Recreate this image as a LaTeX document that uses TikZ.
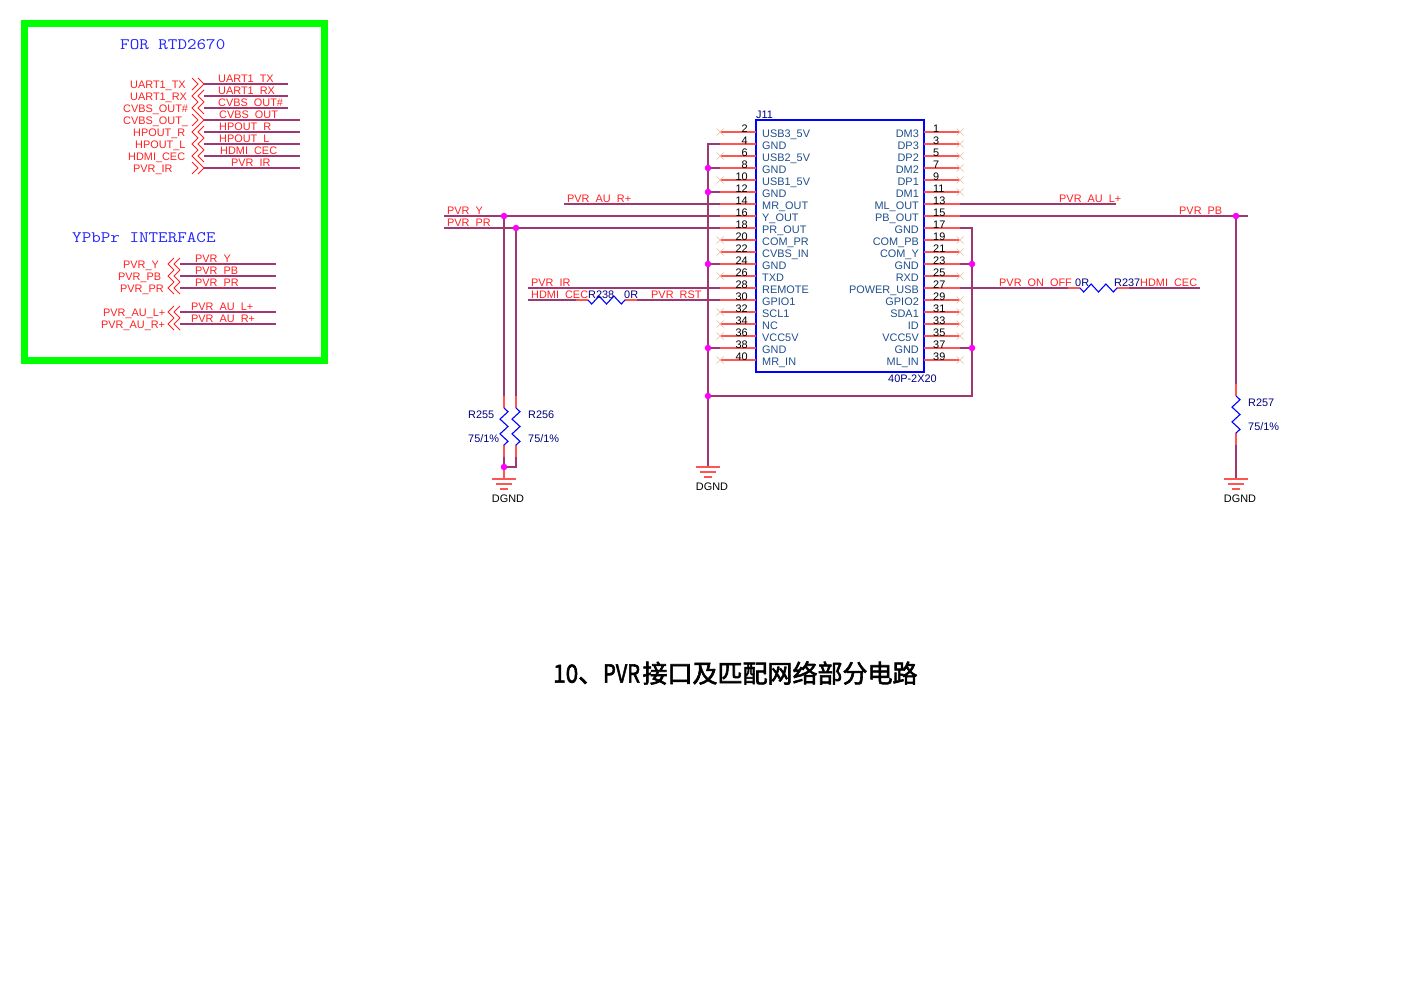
\documentclass[tikz,border=0pt]{standalone}
\usepackage{graphicx}
\usepackage{fontspec}
\setmainfont{Liberation Sans}
\newfontfamily\cjk{Noto Sans CJK SC}
\usetikzlibrary{decorations.pathmorphing}
\definecolor{wirecol}{rgb}{0.62,0.22,0.45}
\definecolor{pincol}{rgb}{1,0.33,0.33}
\definecolor{netcol}{rgb}{1,0.13,0.13}
\definecolor{namecol}{rgb}{0.12,0.31,0.55}
\definecolor{refcol}{rgb}{0,0,0.5}
\definecolor{nccol}{rgb}{0.91,0.78,0.69}
\definecolor{framecol}{rgb}{0,1,0}
\definecolor{notecol}{rgb}{0.15,0.15,1}
\definecolor{dotcol}{rgb}{1,0,1}
\tikzset{
  wire/.style={draw=wirecol,line width=1.4pt},
  pinline/.style={draw=pincol,line width=1.4pt},
  ncmark/.style={draw=nccol,line width=0.7pt},
  reszig/.style={draw=blue,line width=1.1pt,decorate,decoration={zigzag,segment length=14.8pt,amplitude=4pt}},
  portline/.style={draw=netcol,line width=1pt},
  junction/.style={circle,fill=dotcol,inner sep=0pt,minimum size=6.5pt},
  txt/.style={inner sep=0pt,text height=8pt,text depth=0pt,font=\fontsize{10.9}{11}\selectfont},
  netlabel/.style={txt,anchor=west,text=netcol},
  pinname/.style={txt,text=namecol},
  pinnum/.style={txt,text=black},
  refname/.style={txt,anchor=west,text=refcol},
  gndname/.style={txt,text=black},
  notetext/.style={inner sep=0pt,text=notecol,font=\fontsize{16}{16}\ttfamily},
}
% three bars under a ground point
\newcommand{\gndbars}[1]{
  \draw[pinline,shift={(#1)}] (-12,0) -- (12,0) (-8,5) -- (8,5) (-4,10) -- (4,10);
}
% double chevron of an off-page port, tips at x=#2
\newcommand{\chevleft}[2]{
  \draw[portline] (#2+6,#1-6) -- (#2,#1) -- (#2+6,#1+6);
  \draw[portline] (#2+12,#1-6) -- (#2+6,#1) -- (#2+12,#1+6);
}
\newcommand{\chevright}[2]{
  \draw[portline] (#2,#1-6) -- (#2+6,#1) -- (#2,#1+6);
  \draw[portline] (#2+6,#1-6) -- (#2+12,#1) -- (#2+6,#1+6);
}

\begin{document}
\begin{tikzpicture}[x=1pt,y=-1pt]
  \useasboundingbox (0,0) rectangle (1404,993);

  % panel with the port lists
  \draw[draw=framecol,line width=7pt] (24.5,23.5) rectangle (324.5,360);
  \node[notetext,anchor=west] (titlertd) at (120,45) {\scalebox{1.16}[1]{FOR RTD2670}};
  \node[notetext,anchor=west] (titleypbpr) at (72,237.5) {\scalebox{1.16}[1]{YPbPr INTERFACE}};

  \foreach \y/\xa/\ta/\xb/\tb/\xe in {84/130/UART1\_TX/218/UART1\_TX/288,
      96/130/UART1\_RX/218/UART1\_RX/288,
      108/123/CVBS\_OUT\#/218/CVBS\_OUT\#/288,
      120/123/CVBS\_OUT\_/219/CVBS\_OUT/300,
      132/133/HPOUT\_R/219/HPOUT\_R/300,
      144/135/HPOUT\_L/219/HPOUT\_L/300,
      156/128/HDMI\_CEC/220/HDMI\_CEC/300,
      168/133/PVR\_IR/231/PVR\_IR/300} {
    \coordinate (pa\y) at (204,\y);
    \coordinate (pb\y) at (\xe,\y);
    \draw[wire] (pa\y) -- (pb\y);
    \node[netlabel] (la\y) at (\xa,\y) {\ta};
    \node[netlabel] (lb\y) at (\xb,\y-6) {\tb};
  }
  \foreach \y in {84,120,168} { \chevright{\y}{192} }
  \foreach \y in {96,108,132,144,156} { \chevleft{\y}{192} }

  \foreach \y/\xa/\ta/\xb/\tb in {264/123/PVR\_Y/195/PVR\_Y,
      276/118/PVR\_PB/195/PVR\_PB,
      288/120/PVR\_PR/195/PVR\_PR,
      312/103/PVR\_AU\_L+/191/PVR\_AU\_L+,
      324/101/PVR\_AU\_R+/191/PVR\_AU\_R+} {
    \coordinate (pa\y) at (180,\y);
    \coordinate (pb\y) at (276,\y);
    \draw[wire] (pa\y) -- (pb\y);
    \node[netlabel] (la\y) at (\xa,\y) {\ta};
    \node[netlabel] (lb\y) at (\xb,\y-6) {\tb};
    \chevleft{\y}{168}
  }

  % connector J11
  \draw[draw=blue,line width=1.4pt] (756,120) rectangle (924,372);
  \node[refname] (j11ref) at (756,114) {J11};
  \node[refname] (j11val) at (888,378) {40P-2X20};

  \foreach \n/\t [count=\k from 0] in {2/USB3\_5V,4/GND,6/USB2\_5V,8/GND,10/USB1\_5V,12/GND,14/MR\_OUT,16/Y\_OUT,18/PR\_OUT,20/COM\_PR,
      22/CVBS\_IN,24/GND,26/TXD,28/REMOTE,30/GPIO1,32/SCL1,34/NC,36/VCC5V,38/GND,40/MR\_IN} {
    \pgfmathsetmacro{\y}{132+12*\k}
    \coordinate (q\n) at (756,\y);
    \coordinate (p\n) at (720,\y);
    \draw[pinline] (q\n) -- (p\n);
    \node[pinnum,anchor=east] (num\n) at (748,\y-4) {\n};
    \node[pinname,anchor=west] (name\n) at (762,\y+1) {\t};
  }
  \foreach \n/\t [count=\k from 0] in {1/DM3,3/DP3,5/DP2,7/DM2,9/DP1,11/DM1,13/ML\_OUT,15/PB\_OUT,17/GND,19/COM\_PB,
      21/COM\_Y,23/GND,25/RXD,27/POWER\_USB,29/GPIO2,31/SDA1,33/ID,35/VCC5V,37/GND,39/ML\_IN} {
    \pgfmathsetmacro{\y}{132+12*\k}
    \coordinate (q\n) at (924,\y);
    \coordinate (p\n) at (960,\y);
    \draw[pinline] (q\n) -- (p\n);
    \node[pinnum,anchor=west] (num\n) at (933,\y-4) {\n};
    \node[pinname,anchor=east] (name\n) at (919,\y+1) {\t};
  }
  % not connected pins
  \foreach \n in {2,6,10,20,22,26,32,34,36,40,1,3,5,7,9,11,19,21,25,29,31,33,35,39} {
    \draw[ncmark] (p\n) +(-3.5,-3.5) -- +(3.5,3.5) +(-3.5,3.5) -- +(3.5,-3.5);
  }

  % ground rails around the connector
  \coordinate (gndm) at (708,467);
  \coordinate (rail) at (708,396);
  \coordinate (railr) at (972,396);
  \draw[wire] (p4) -| (gndm);
  \draw[wire] (p17) -| (railr) -- (rail);
  \foreach \n in {8,12,24,38} {
    \node[junction] (j\n) at (708,132+12*\n/2-12) {};
    \draw[wire] (p\n) -- (j\n);
  }
  \foreach \n in {23,37} {
    \node[junction] (j\n) at (972,132+6*\n-6) {};
    \draw[wire] (p\n) -- (j\n);
  }
  \node[junction] (jrail) at (rail) {};
  \gndbars{gndm}
  \node[gndname] (gndmtxt) at (712,486) {DGND};

  % signal nets
  \coordinate (end14) at (564,204);
  \coordinate (end16) at (444,216);
  \coordinate (end18) at (444,228);
  \coordinate (end28) at (528,288);
  \coordinate (end30) at (528,300);
  \coordinate (end13) at (1116,204);
  \coordinate (end15) at (1248,216);
  \draw[wire] (p14) -- (end14);
  \draw[wire] (p16) -- (end16);
  \draw[wire] (p18) -- (end18);
  \draw[wire] (p28) -- (end28);
  \draw[wire] (p13) -- (end13);
  \draw[wire] (p15) -- (end15);

  \node[netlabel] (lab14) at (567,198) {PVR\_AU\_R+};
  \node[netlabel] (lab16) at (447,210) {PVR\_Y};
  \node[netlabel] (lab18) at (447,222) {PVR\_PR};
  \node[netlabel] (lab28) at (531,282) {PVR\_IR};
  \node[netlabel] (lab30) at (531,294) {HDMI\_CEC};
  \node[netlabel] (labrst) at (651,294) {PVR\_RST};
  \node[netlabel] (lab13) at (1059,198) {PVR\_AU\_L+};
  \node[netlabel] (lab15) at (1179,210) {PVR\_PB};
  \node[netlabel] (lab27) at (999,282) {PVR\_ON\_OFF};
  \node[netlabel] (labcec) at (1140,282) {HDMI\_CEC};

  % series resistors
  \coordinate (r238a) at (576,300);
  \coordinate (r238b) at (588,300);
  \coordinate (r238c) at (625,300);
  \coordinate (r238d) at (637,300);
  \draw[wire] (end30) -- (r238a);
  \draw[wire] (r238d) -- (p30);
  \draw[pinline] (r238a) -- (r238b) (r238c) -- (r238d);
  \draw[reszig,decoration={mirror}] (r238b) -- (r238c);
  \node[refname] (r238ref) at (588,294) {R238};
  \node[refname] (r238val) at (624,294) {0R};

  \coordinate (end27) at (1200,288);
  \coordinate (r237a) at (1068,288);
  \coordinate (r237b) at (1080,288);
  \coordinate (r237c) at (1117,288);
  \coordinate (r237d) at (1129,288);
  \draw[wire] (p27) -- (r237a);
  \draw[wire] (r237d) -- (end27);
  \draw[pinline] (r237a) -- (r237b) (r237c) -- (r237d);
  \draw[reszig,decoration={mirror}] (r237b) -- (r237c);
  \node[refname] (r237ref) at (1114,282) {R237};
  \node[refname] (r237val) at (1075,282) {0R};

  % matching resistors
  \node[junction] (jy) at (504,216) {};
  \node[junction] (jpr) at (516,228) {};
  \node[junction] (jpb) at (1236,216) {};
  \foreach \r/\x/\t/\s/\xt in {255/504/408/jy/468,256/516/408/jpr/528,257/1236/396/jpb/1248} {
    \coordinate (r\r a) at (\x,\t-12);
    \coordinate (r\r b) at (\x,\t);
    \coordinate (r\r c) at (\x,\t+37);
    \coordinate (r\r d) at (\x,\t+49);
    \draw[wire] (\s) -- (r\r a);
    \draw[pinline] (r\r a) -- (r\r b) (r\r c) -- (r\r d);
    \draw[reszig] (r\r b) -- (r\r c);
    \node[refname] (r\r ref) at (\xt,\t+6) {R\r};
    \node[refname] (r\r val) at (\xt,\t+30) {75/1\%};
  }
  \coordinate (gndl) at (504,479);
  \coordinate (gndr) at (1236,479);
  \coordinate (joinr) at (516,467);
  \node[junction] (jgnd) at (504,467) {};
  \draw[wire] (r255d) -- (jgnd);
  \draw[pinline] (jgnd) -- (gndl);
  \draw[wire] (r256d) -- (joinr) -- (jgnd);
  \draw[wire] (r257d) -- (gndr);
  \gndbars{gndl}
  \gndbars{gndr}
  \node[gndname] (gndltxt) at (508,498) {DGND};
  \node[gndname] (gndrtxt) at (1240,498) {DGND};

  \node[inner sep=0pt,text=black,anchor=west,font=\fontsize{25}{25}\cjk] (caption) at (553,673) {\special{pdf:code q 2 Tr 0.6 w}\scalebox{0.9}[1]{10}、\scalebox{0.8}[1]{PVR}\kern2.5pt 接口及匹配网络部分电路\special{pdf:code Q}};
\end{tikzpicture}
\end{document}
